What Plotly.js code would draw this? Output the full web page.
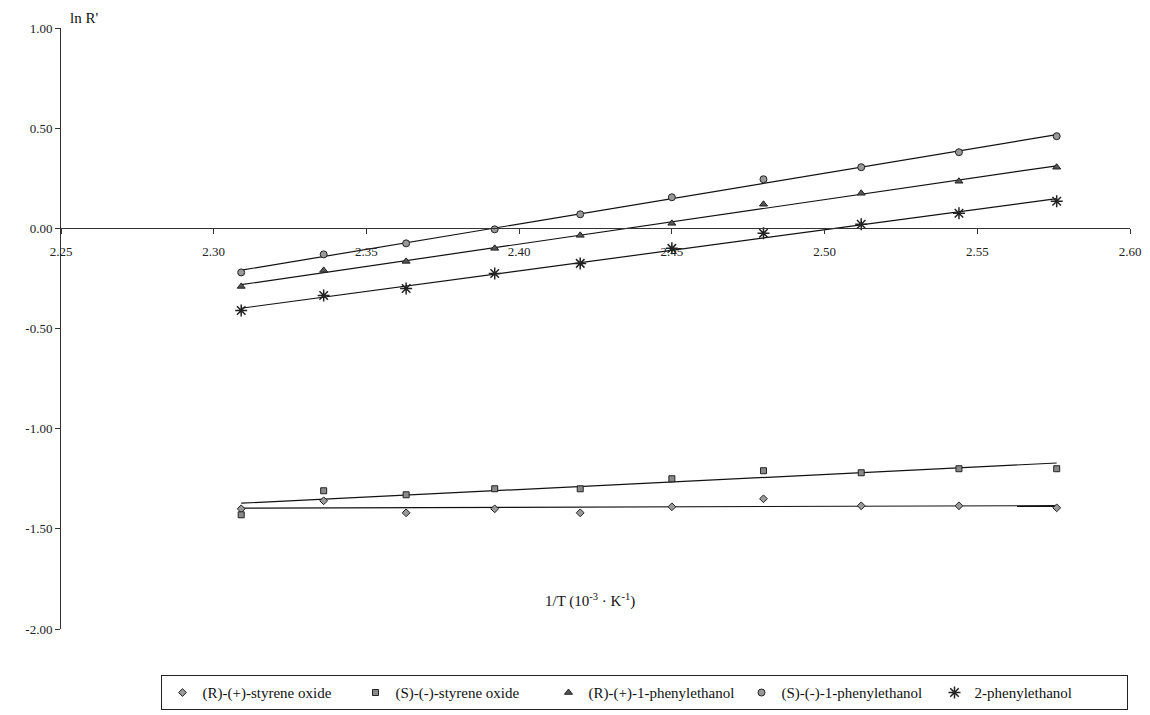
<!DOCTYPE html>
<html>
<head>
<meta charset="utf-8">
<script src="https://cdn.plot.ly/plotly-3.0.1.min.js"></script>
<style>html,body{margin:0;padding:0;background:#fff;}#chart{width:1150px;height:715px;}</style>
</head>
<body>
<div id="chart"></div>
<script>
// 1/T (10^-3 K^-1)
const invT = [2.309, 2.336, 2.363, 2.392, 2.420, 2.450, 2.480, 2.512, 2.544, 2.576];
// ln R'
const rStyreneOxide = [-1.40, -1.36, -1.42, -1.40, -1.42, -1.39, -1.35, -1.385, -1.385, -1.395];
const sStyreneOxide = [-1.43, -1.31, -1.33, -1.30, -1.30, -1.25, -1.21, -1.22, -1.20, -1.20];
const rPhenylethanol = [-0.29, -0.21, -0.165, -0.10, -0.035, 0.025, 0.12, 0.175, 0.235, 0.305];
const sPhenylethanol = [-0.22, -0.13, -0.075, -0.005, 0.07, 0.155, 0.245, 0.305, 0.38, 0.46];
const twoPhenylethanol = [-0.41, -0.335, -0.30, -0.225, -0.175, -0.10, -0.025, 0.02, 0.075, 0.135];

const seriesNames = ["(R)-(+)-styrene oxide", "(S)-(-)-styrene oxide", "(R)-(+)-1-phenylethanol", "(S)-(-)-1-phenylethanol", "2-phenylethanol"];
const xTicks = [2.25, 2.30, 2.35, 2.40, 2.45, 2.50, 2.55, 2.60];
const yTicks = [-2.0, -1.5, -1.0, -0.5, 0.0, 0.5, 1.0];

const serif = "'Liberation Serif', 'Times New Roman', serif";

function fitLine(xs, ys) {
  const n = xs.length;
  const mx = xs.reduce((a, b) => a + b, 0) / n;
  const my = ys.reduce((a, b) => a + b, 0) / n;
  let sxy = 0, sxx = 0;
  for (let i = 0; i < n; i++) { sxy += (xs[i] - mx) * (ys[i] - my); sxx += (xs[i] - mx) ** 2; }
  const b = sxy / sxx, a = my - b * mx;
  const x0 = xs[0], x1 = xs[n - 1];
  return {x: [x0, x1], y: [a + b * x0, a + b * x1]};
}

const dataSets = [rStyreneOxide, sStyreneOxide, rPhenylethanol, sPhenylethanol, twoPhenylethanol];
const markers = [
  {symbol: "diamond", size: 6, color: "#9a9a9a", line: {color: "#222", width: 1}},
  {symbol: "square", size: 6, color: "#8a8a8a", line: {color: "#222", width: 1}},
  {symbol: "triangle-up", size: 7, color: "#555", line: {color: "#222", width: 1}},
  {symbol: "circle", size: 7, color: "#999", line: {color: "#222", width: 1}},
  {symbol: "asterisk-open", size: 10, color: "#222", line: {color: "#222", width: 1.5}}
];

const traces = [];
dataSets.forEach((ys, i) => {
  const f = fitLine(invT, ys);
  traces.push({x: f.x, y: f.y, type: "scatter", mode: "lines", line: {color: "#111", width: 1.2}, showlegend: false, hoverinfo: "skip"});
});
dataSets.forEach((ys, i) => {
  traces.push({x: invT, y: ys, type: "scatter", mode: "markers", name: seriesNames[i], marker: markers[i]});
});

const layout = {
  width: 1150, height: 715,
  margin: {l: 61, r: 20, t: 28, b: 86, autoexpand: false},
  paper_bgcolor: "#fff", plot_bgcolor: "#fff",
  font: {family: serif, size: 13, color: "#111"},
  showlegend: true,
  xaxis: {
    range: [2.25, 2.60], tickvals: xTicks, ticktext: xTicks.map(v => v.toFixed(2)),
    anchor: "free", position: 2 / 3,
    showline: true, linecolor: "#333", linewidth: 1,
    ticks: "outside", ticklen: 5, tickcolor: "#333",
    ticklabelstandoff: 6,
    showgrid: false, zeroline: false,
    tickfont: {family: serif, size: 13, color: "#222"}
  },
  yaxis: {
    range: [-2.0, 1.0], tickvals: yTicks, ticktext: yTicks.map(v => v.toFixed(2)),
    showline: true, linecolor: "#333", linewidth: 1,
    ticks: "outside", ticklen: 5, tickcolor: "#333",
    showgrid: false, zeroline: false,
    tickfont: {family: serif, size: 13, color: "#222"}
  },
  legend: {
    orientation: "h", x: 0.094, y: -0.077, xanchor: "left", yanchor: "top",
    bordercolor: "#222", borderwidth: 1, bgcolor: "#fff",
    font: {family: serif, size: 15, color: "#111"},
    itemwidth: 30, entrywidth: 148, entrywidthmode: "pixels"
  },
  annotations: [
    {text: "ln R'", xref: "paper", yref: "paper", x: 0.007, y: 1.0, xanchor: "left", yanchor: "bottom", yshift: 0, showarrow: false, font: {family: serif, size: 15, color: "#111"}},
    {text: "1/T (10<sup>-3</sup> · K<sup>-1</sup>)", xref: "paper", yref: "paper", x: 0.495, y: 0.048, xanchor: "center", yanchor: "middle", showarrow: false, font: {family: serif, size: 15, color: "#111"}}
  ]
};

Plotly.newPlot("chart", traces, layout, {displayModeBar: false, staticPlot: true});
</script>
</body>
</html>
